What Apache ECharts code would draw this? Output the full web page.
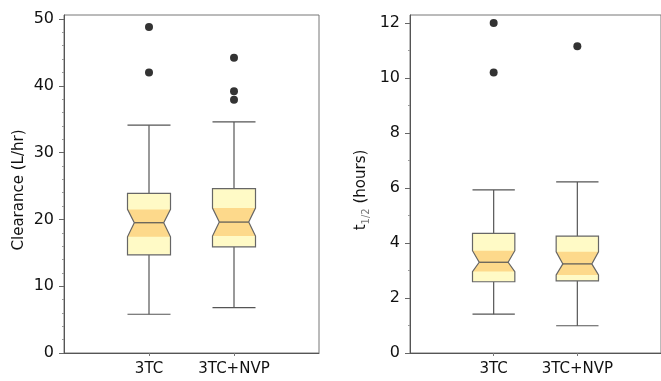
<!DOCTYPE html>
<html>
<head>
<meta charset="utf-8">
<script src="https://cdn.jsdelivr.net/npm/echarts@6/dist/echarts.min.js"></script>
<style>
html,body{margin:0;padding:0;background:#fff;}
#c{width:661px;height:381px;}
</style>
</head>
<body>
<div id="c"></div>
<script>
// Categories (slots 0 and 3 are empty padding slots)
const categories = ['', '3TC', '3TC+NVP', ''];

// Clearance (L/hr): [catIndex, whiskerLow, Q1, notchLow, median, notchHigh, Q3, whiskerHigh]
const clearanceBoxes = [
  [1, 5.8, 14.7, 17.4, 19.5, 21.5, 23.9, 34.1],
  [2, 6.8, 15.9, 17.5, 19.6, 21.7, 24.6, 34.6]
];
const clearanceOutliers = [[1, 48.8], [1, 42.0], [2, 44.2], [2, 39.2], [2, 37.9]];

// t1/2 (hours)
const halfLifeBoxes = [
  [1, 1.41, 2.59, 2.96, 3.30, 3.72, 4.35, 5.93],
  [2, 0.99, 2.62, 2.84, 3.24, 3.68, 4.25, 6.22]
];
const halfLifeOutliers = [[1, 12.0], [1, 10.2], [2, 11.15]];

// Tick labels (major) and minor tick positions
const clearanceTicks = [0, 10, 20, 30, 40, 50];
const clearanceMinorTicks = [2, 4, 6, 8, 12, 14, 16, 18, 22, 24, 26, 28, 32, 34, 36, 38, 42, 44, 46, 48];
const halfLifeTicks = [0, 2, 4, 6, 8, 10, 12];
const halfLifeMinorTicks = [1, 3, 5, 7, 9, 11];

const FONT = '"DejaVu Sans", Verdana, sans-serif';
const LIGHT = '#fffac6';
const ORANGE = '#fdd98b';
const EDGE = '#666';

function renderNotch(params, api) {
  const x = api.value(0);
  const band = api.size([1, 0])[0];
  const hw = band * 0.253;
  const ni = band * 0.08;
  const c = v => api.coord([x, api.value(v)]);
  const cx = c(1)[0];
  const yWL = c(1)[1], yQ1 = c(2)[1], yNL = c(3)[1], yMed = c(4)[1], yNH = c(5)[1], yQ3 = c(6)[1], yWH = c(7)[1];
  const L = cx - hw, R = cx + hw;
  const lineStyle = { stroke: '#555', lineWidth: 1.2, fill: null };
  const boxPts = [[L, yQ3], [R, yQ3], [R, yNH], [R - ni, yMed], [R, yNL], [R, yQ1], [L, yQ1], [L, yNL], [L + ni, yMed], [L, yNH]];
  const bandPts = [[L, yNH], [R, yNH], [R - ni, yMed], [R, yNL], [L, yNL], [L + ni, yMed]];
  return {
    type: 'group',
    children: [
      { type: 'line', shape: { x1: cx, y1: yWL, x2: cx, y2: yQ1 }, style: lineStyle },
      { type: 'line', shape: { x1: cx, y1: yQ3, x2: cx, y2: yWH }, style: lineStyle },
      { type: 'line', shape: { x1: L, y1: yWL, x2: R, y2: yWL }, style: lineStyle },
      { type: 'line', shape: { x1: L, y1: yWH, x2: R, y2: yWH }, style: lineStyle },
      { type: 'polygon', shape: { points: boxPts }, style: { fill: LIGHT, stroke: null } },
      { type: 'polygon', shape: { points: bandPts }, style: { fill: ORANGE, stroke: null } },
      { type: 'line', shape: { x1: L + ni, y1: yMed, x2: R - ni, y2: yMed }, style: { stroke: '#555', lineWidth: 1.2 } },
      { type: 'polygon', shape: { points: boxPts }, style: { fill: null, stroke: EDGE, lineWidth: 1.2 } }
    ]
  };
}

const xAxisBase = {
  type: 'category',
  data: categories,
  boundaryGap: false,
  axisLine: { lineStyle: { color: '#555', width: 1 } },
  axisTick: { show: true, length: 3, interval: (i) => i === 1 || i === 2, lineStyle: { color: '#777' } },
  axisLabel: { interval: (i) => i === 1 || i === 2, color: '#111', fontFamily: FONT, fontSize: 15, margin: 9 },
  splitLine: { show: false }
};

function yAxisMain(max, ticks, nameOpts) {
  return Object.assign({
    type: 'value',
    min: 0,
    max: max,
    nameLocation: 'middle',
    nameRotate: 90,
    axisLine: { show: true, lineStyle: { color: '#555', width: 1 } },
    axisTick: { show: true, length: 5, customValues: ticks, lineStyle: { color: '#666' } },
    axisLabel: { customValues: ticks, color: '#111', fontFamily: FONT, fontSize: 16, margin: 10 },
    splitLine: { show: false }
  }, nameOpts);
}

function yAxisMinor(gridIndex, max, minor) {
  return {
    type: 'value',
    gridIndex: gridIndex,
    min: 0,
    max: max,
    position: 'left',
    axisLine: { show: false },
    axisTick: { show: true, length: 2, customValues: minor, lineStyle: { color: '#999' } },
    axisLabel: { show: false },
    splitLine: { show: false }
  };
}

const chart = echarts.init(document.getElementById('c'), null, { renderer: 'canvas' });
chart.setOption({
  animation: false,
  backgroundColor: '#fff',
  grid: [
    { left: 64, top: 15, width: 255, height: 338, show: true, borderColor: '#777', borderWidth: 1, backgroundColor: 'transparent' },
    { left: 410, top: 15, width: 254, height: 338, show: true, borderColor: '#777', borderWidth: 1, backgroundColor: 'transparent' }
  ],
  xAxis: [
    Object.assign({ gridIndex: 0 }, xAxisBase),
    Object.assign({ gridIndex: 1 }, xAxisBase)
  ],
  yAxis: [
    yAxisMain(50.6, clearanceTicks, {
      gridIndex: 0,
      name: 'Clearance (L/hr)',
      nameGap: 37,
      nameTextStyle: { color: '#111', fontFamily: FONT, fontSize: 15, padding: [0, 12, 0, 0] }
    }),
    yAxisMain(12.29, halfLifeTicks, {
      gridIndex: 1,
      name: 't{sub|1/2} (hours)',
      nameGap: 39,
      nameTextStyle: {
        color: '#111', fontFamily: FONT, fontSize: 15, lineHeight: 20, padding: [0, 12, 0, 0],
        rich: { sub: { fontSize: 10, color: '#777', fontFamily: FONT, verticalAlign: 'bottom', lineHeight: 20, padding: [5, 0, 0, 0] } }
      }
    }),
    yAxisMinor(0, 50.6, clearanceMinorTicks),
    yAxisMinor(1, 12.29, halfLifeMinorTicks)
  ],
  series: [
    { type: 'custom', xAxisIndex: 0, yAxisIndex: 0, renderItem: renderNotch, data: clearanceBoxes, encode: { x: 0, y: [1, 7] }, z: 2 },
    { type: 'scatter', xAxisIndex: 0, yAxisIndex: 0, data: clearanceOutliers, symbolSize: 8, itemStyle: { color: '#000' }, z: 3 },
    { type: 'custom', xAxisIndex: 1, yAxisIndex: 1, renderItem: renderNotch, data: halfLifeBoxes, encode: { x: 0, y: [1, 7] }, z: 2 },
    { type: 'scatter', xAxisIndex: 1, yAxisIndex: 1, data: halfLifeOutliers, symbolSize: 8, itemStyle: { color: '#000' }, z: 3 }
  ]
});
</script>
</body>
</html>
